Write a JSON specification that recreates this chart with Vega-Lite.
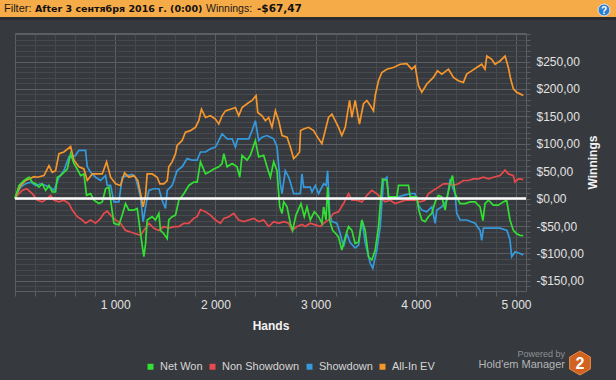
{
  "$schema": "https://vega.github.io/schema/vega-lite/v6.json",
  "width": 511,
  "height": 258,
  "autosize": {"type": "none"},
  "padding": {"left": 15, "top": 33, "right": 90, "bottom": 89},
  "background": "#36393d",
  "config": {
    "font": "Liberation Sans",
    "view": {"stroke": "#5b5e62", "strokeWidth": 1}
  },
  "datasets": {
    "series": [
      {"s":"Showdown","h":0,"v":0},{"s":"Showdown","h":10,"v":6},{"s":"Showdown","h":56,"v":21},{"s":"Showdown","h":106,"v":27},{"s":"Showdown","h":156,"v":30},{"s":"Showdown","h":206,"v":24},{"s":"Showdown","h":256,"v":27},{"s":"Showdown","h":306,"v":24},{"s":"Showdown","h":356,"v":20},{"s":"Showdown","h":389,"v":15},{"s":"Showdown","h":439,"v":39},{"s":"Showdown","h":488,"v":51},{"s":"Showdown","h":538,"v":76},{"s":"Showdown","h":572,"v":76},{"s":"Showdown","h":605,"v":79},{"s":"Showdown","h":638,"v":88},{"s":"Showdown","h":704,"v":88},{"s":"Showdown","h":721,"v":58},{"s":"Showdown","h":754,"v":48},{"s":"Showdown","h":804,"v":39},{"s":"Showdown","h":854,"v":33},{"s":"Showdown","h":904,"v":42},{"s":"Showdown","h":920,"v":24},{"s":"Showdown","h":954,"v":24},{"s":"Showdown","h":987,"v":-6},{"s":"Showdown","h":1037,"v":-6},{"s":"Showdown","h":1070,"v":39},{"s":"Showdown","h":1120,"v":42},{"s":"Showdown","h":1170,"v":44},{"s":"Showdown","h":1203,"v":39},{"s":"Showdown","h":1253,"v":3},{"s":"Showdown","h":1279,"v":-42},{"s":"Showdown","h":1303,"v":-15},{"s":"Showdown","h":1336,"v":15},{"s":"Showdown","h":1386,"v":18},{"s":"Showdown","h":1436,"v":18},{"s":"Showdown","h":1469,"v":-3},{"s":"Showdown","h":1502,"v":-18},{"s":"Showdown","h":1519,"v":15},{"s":"Showdown","h":1568,"v":24},{"s":"Showdown","h":1618,"v":51},{"s":"Showdown","h":1668,"v":58},{"s":"Showdown","h":1718,"v":73},{"s":"Showdown","h":1768,"v":70},{"s":"Showdown","h":1818,"v":70},{"s":"Showdown","h":1851,"v":85},{"s":"Showdown","h":1901,"v":85},{"s":"Showdown","h":1951,"v":91},{"s":"Showdown","h":2000,"v":94},{"s":"Showdown","h":2017,"v":100},{"s":"Showdown","h":2067,"v":118},{"s":"Showdown","h":2117,"v":109},{"s":"Showdown","h":2167,"v":109},{"s":"Showdown","h":2200,"v":94},{"s":"Showdown","h":2223,"v":109},{"s":"Showdown","h":2283,"v":109},{"s":"Showdown","h":2333,"v":109},{"s":"Showdown","h":2366,"v":124},{"s":"Showdown","h":2399,"v":142},{"s":"Showdown","h":2432,"v":106},{"s":"Showdown","h":2466,"v":112},{"s":"Showdown","h":2515,"v":115},{"s":"Showdown","h":2549,"v":112},{"s":"Showdown","h":2582,"v":109},{"s":"Showdown","h":2615,"v":94},{"s":"Showdown","h":2648,"v":27},{"s":"Showdown","h":2665,"v":9},{"s":"Showdown","h":2698,"v":51},{"s":"Showdown","h":2732,"v":39},{"s":"Showdown","h":2748,"v":30},{"s":"Showdown","h":2781,"v":9},{"s":"Showdown","h":2848,"v":9},{"s":"Showdown","h":2864,"v":45},{"s":"Showdown","h":2881,"v":21},{"s":"Showdown","h":2947,"v":21},{"s":"Showdown","h":2964,"v":12},{"s":"Showdown","h":2997,"v":24},{"s":"Showdown","h":3030,"v":9},{"s":"Showdown","h":3080,"v":27},{"s":"Showdown","h":3105,"v":24},{"s":"Showdown","h":3120,"v":51},{"s":"Showdown","h":3140,"v":-27},{"s":"Showdown","h":3163,"v":-42},{"s":"Showdown","h":3213,"v":-45},{"s":"Showdown","h":3246,"v":-64},{"s":"Showdown","h":3279,"v":-88},{"s":"Showdown","h":3312,"v":-64},{"s":"Showdown","h":3345,"v":-80},{"s":"Showdown","h":3395,"v":-90},{"s":"Showdown","h":3429,"v":-85},{"s":"Showdown","h":3462,"v":-39},{"s":"Showdown","h":3495,"v":-80},{"s":"Showdown","h":3545,"v":-118},{"s":"Showdown","h":3571,"v":-127},{"s":"Showdown","h":3611,"v":-94},{"s":"Showdown","h":3645,"v":-51},{"s":"Showdown","h":3678,"v":33},{"s":"Showdown","h":3711,"v":39},{"s":"Showdown","h":3728,"v":3},{"s":"Showdown","h":3811,"v":3},{"s":"Showdown","h":3877,"v":6},{"s":"Showdown","h":3944,"v":9},{"s":"Showdown","h":3993,"v":9},{"s":"Showdown","h":4027,"v":-12},{"s":"Showdown","h":4060,"v":-21},{"s":"Showdown","h":4110,"v":-24},{"s":"Showdown","h":4160,"v":-15},{"s":"Showdown","h":4193,"v":-45},{"s":"Showdown","h":4210,"v":-21},{"s":"Showdown","h":4260,"v":-15},{"s":"Showdown","h":4310,"v":-3},{"s":"Showdown","h":4343,"v":36},{"s":"Showdown","h":4366,"v":21},{"s":"Showdown","h":4392,"v":9},{"s":"Showdown","h":4409,"v":-27},{"s":"Showdown","h":4442,"v":-39},{"s":"Showdown","h":4508,"v":-39},{"s":"Showdown","h":4592,"v":-45},{"s":"Showdown","h":4642,"v":-58},{"s":"Showdown","h":4658,"v":-76},{"s":"Showdown","h":4675,"v":-54},{"s":"Showdown","h":4774,"v":-54},{"s":"Showdown","h":4841,"v":-54},{"s":"Showdown","h":4910,"v":-58},{"s":"Showdown","h":4940,"v":-75},{"s":"Showdown","h":4957,"v":-106},{"s":"Showdown","h":4990,"v":-97},{"s":"Showdown","h":5040,"v":-100},{"s":"Showdown","h":5073,"v":-103},
      {"s":"Non Showdown","h":0,"v":0},{"s":"Non Showdown","h":10,"v":3},{"s":"Non Showdown","h":40,"v":9},{"s":"Non Showdown","h":73,"v":15},{"s":"Non Showdown","h":116,"v":18},{"s":"Non Showdown","h":173,"v":9},{"s":"Non Showdown","h":223,"v":-3},{"s":"Non Showdown","h":272,"v":-6},{"s":"Non Showdown","h":322,"v":0},{"s":"Non Showdown","h":356,"v":6},{"s":"Non Showdown","h":389,"v":-3},{"s":"Non Showdown","h":439,"v":-6},{"s":"Non Showdown","h":488,"v":-3},{"s":"Non Showdown","h":538,"v":-9},{"s":"Non Showdown","h":572,"v":-21},{"s":"Non Showdown","h":621,"v":-33},{"s":"Non Showdown","h":671,"v":-39},{"s":"Non Showdown","h":704,"v":-45},{"s":"Non Showdown","h":754,"v":-39},{"s":"Non Showdown","h":804,"v":-45},{"s":"Non Showdown","h":854,"v":-36},{"s":"Non Showdown","h":887,"v":-27},{"s":"Non Showdown","h":920,"v":-23},{"s":"Non Showdown","h":954,"v":-30},{"s":"Non Showdown","h":1004,"v":-39},{"s":"Non Showdown","h":1053,"v":-45},{"s":"Non Showdown","h":1103,"v":-58},{"s":"Non Showdown","h":1153,"v":-61},{"s":"Non Showdown","h":1203,"v":-64},{"s":"Non Showdown","h":1253,"v":-67},{"s":"Non Showdown","h":1286,"v":-58},{"s":"Non Showdown","h":1336,"v":-45},{"s":"Non Showdown","h":1386,"v":-54},{"s":"Non Showdown","h":1436,"v":-58},{"s":"Non Showdown","h":1485,"v":-51},{"s":"Non Showdown","h":1535,"v":-54},{"s":"Non Showdown","h":1585,"v":-51},{"s":"Non Showdown","h":1635,"v":-51},{"s":"Non Showdown","h":1685,"v":-45},{"s":"Non Showdown","h":1735,"v":-45},{"s":"Non Showdown","h":1784,"v":-36},{"s":"Non Showdown","h":1818,"v":-33},{"s":"Non Showdown","h":1851,"v":-20},{"s":"Non Showdown","h":1901,"v":-24},{"s":"Non Showdown","h":1951,"v":-30},{"s":"Non Showdown","h":2000,"v":-39},{"s":"Non Showdown","h":2050,"v":-45},{"s":"Non Showdown","h":2084,"v":-36},{"s":"Non Showdown","h":2133,"v":-33},{"s":"Non Showdown","h":2183,"v":-27},{"s":"Non Showdown","h":2233,"v":-39},{"s":"Non Showdown","h":2283,"v":-42},{"s":"Non Showdown","h":2333,"v":-39},{"s":"Non Showdown","h":2383,"v":-36},{"s":"Non Showdown","h":2432,"v":-42},{"s":"Non Showdown","h":2482,"v":-39},{"s":"Non Showdown","h":2532,"v":-51},{"s":"Non Showdown","h":2582,"v":-42},{"s":"Non Showdown","h":2632,"v":-45},{"s":"Non Showdown","h":2682,"v":-42},{"s":"Non Showdown","h":2732,"v":-45},{"s":"Non Showdown","h":2765,"v":-58},{"s":"Non Showdown","h":2815,"v":-51},{"s":"Non Showdown","h":2864,"v":-47},{"s":"Non Showdown","h":2897,"v":-51},{"s":"Non Showdown","h":2947,"v":-45},{"s":"Non Showdown","h":2997,"v":-48},{"s":"Non Showdown","h":3046,"v":-51},{"s":"Non Showdown","h":3080,"v":-45},{"s":"Non Showdown","h":3129,"v":-39},{"s":"Non Showdown","h":3179,"v":-27},{"s":"Non Showdown","h":3229,"v":-24},{"s":"Non Showdown","h":3279,"v":-9},{"s":"Non Showdown","h":3329,"v":9},{"s":"Non Showdown","h":3362,"v":-3},{"s":"Non Showdown","h":3412,"v":-3},{"s":"Non Showdown","h":3462,"v":-6},{"s":"Non Showdown","h":3512,"v":6},{"s":"Non Showdown","h":3561,"v":15},{"s":"Non Showdown","h":3611,"v":9},{"s":"Non Showdown","h":3661,"v":0},{"s":"Non Showdown","h":3694,"v":-6},{"s":"Non Showdown","h":3744,"v":-3},{"s":"Non Showdown","h":3794,"v":-9},{"s":"Non Showdown","h":3844,"v":-6},{"s":"Non Showdown","h":3894,"v":-3},{"s":"Non Showdown","h":3944,"v":-3},{"s":"Non Showdown","h":3993,"v":-3},{"s":"Non Showdown","h":4043,"v":-6},{"s":"Non Showdown","h":4093,"v":-3},{"s":"Non Showdown","h":4126,"v":9},{"s":"Non Showdown","h":4176,"v":15},{"s":"Non Showdown","h":4226,"v":21},{"s":"Non Showdown","h":4276,"v":27},{"s":"Non Showdown","h":4326,"v":27},{"s":"Non Showdown","h":4376,"v":24},{"s":"Non Showdown","h":4425,"v":27},{"s":"Non Showdown","h":4475,"v":33},{"s":"Non Showdown","h":4525,"v":33},{"s":"Non Showdown","h":4575,"v":36},{"s":"Non Showdown","h":4625,"v":36},{"s":"Non Showdown","h":4675,"v":39},{"s":"Non Showdown","h":4725,"v":36},{"s":"Non Showdown","h":4774,"v":39},{"s":"Non Showdown","h":4841,"v":42},{"s":"Non Showdown","h":4891,"v":52},{"s":"Non Showdown","h":4924,"v":45},{"s":"Non Showdown","h":4974,"v":42},{"s":"Non Showdown","h":4990,"v":30},{"s":"Non Showdown","h":5024,"v":36},{"s":"Non Showdown","h":5073,"v":35},
      {"s":"All-In EV","h":0,"v":0},{"s":"All-In EV","h":10,"v":6},{"s":"All-In EV","h":56,"v":24},{"s":"All-In EV","h":106,"v":33},{"s":"All-In EV","h":189,"v":40},{"s":"All-In EV","h":223,"v":39},{"s":"All-In EV","h":289,"v":42},{"s":"All-In EV","h":339,"v":60},{"s":"All-In EV","h":372,"v":48},{"s":"All-In EV","h":405,"v":51},{"s":"All-In EV","h":439,"v":82},{"s":"All-In EV","h":488,"v":85},{"s":"All-In EV","h":555,"v":95},{"s":"All-In EV","h":588,"v":70},{"s":"All-In EV","h":638,"v":58},{"s":"All-In EV","h":688,"v":54},{"s":"All-In EV","h":721,"v":33},{"s":"All-In EV","h":771,"v":45},{"s":"All-In EV","h":821,"v":45},{"s":"All-In EV","h":871,"v":45},{"s":"All-In EV","h":914,"v":67},{"s":"All-In EV","h":954,"v":39},{"s":"All-In EV","h":1004,"v":27},{"s":"All-In EV","h":1053,"v":24},{"s":"All-In EV","h":1093,"v":47},{"s":"All-In EV","h":1136,"v":39},{"s":"All-In EV","h":1186,"v":42},{"s":"All-In EV","h":1226,"v":33},{"s":"All-In EV","h":1253,"v":9},{"s":"All-In EV","h":1279,"v":-15},{"s":"All-In EV","h":1303,"v":6},{"s":"All-In EV","h":1319,"v":45},{"s":"All-In EV","h":1369,"v":45},{"s":"All-In EV","h":1419,"v":39},{"s":"All-In EV","h":1446,"v":27},{"s":"All-In EV","h":1485,"v":27},{"s":"All-In EV","h":1519,"v":33},{"s":"All-In EV","h":1535,"v":58},{"s":"All-In EV","h":1568,"v":67},{"s":"All-In EV","h":1602,"v":82},{"s":"All-In EV","h":1618,"v":97},{"s":"All-In EV","h":1668,"v":106},{"s":"All-In EV","h":1701,"v":121},{"s":"All-In EV","h":1751,"v":124},{"s":"All-In EV","h":1801,"v":130},{"s":"All-In EV","h":1834,"v":142},{"s":"All-In EV","h":1861,"v":163},{"s":"All-In EV","h":1901,"v":148},{"s":"All-In EV","h":1951,"v":151},{"s":"All-In EV","h":2000,"v":145},{"s":"All-In EV","h":2034,"v":136},{"s":"All-In EV","h":2067,"v":151},{"s":"All-In EV","h":2100,"v":160},{"s":"All-In EV","h":2150,"v":163},{"s":"All-In EV","h":2200,"v":166},{"s":"All-In EV","h":2233,"v":151},{"s":"All-In EV","h":2266,"v":166},{"s":"All-In EV","h":2316,"v":173},{"s":"All-In EV","h":2366,"v":179},{"s":"All-In EV","h":2406,"v":188},{"s":"All-In EV","h":2423,"v":157},{"s":"All-In EV","h":2466,"v":151},{"s":"All-In EV","h":2499,"v":142},{"s":"All-In EV","h":2532,"v":148},{"s":"All-In EV","h":2565,"v":130},{"s":"All-In EV","h":2599,"v":160},{"s":"All-In EV","h":2632,"v":142},{"s":"All-In EV","h":2665,"v":115},{"s":"All-In EV","h":2715,"v":112},{"s":"All-In EV","h":2748,"v":94},{"s":"All-In EV","h":2781,"v":73},{"s":"All-In EV","h":2815,"v":79},{"s":"All-In EV","h":2840,"v":85},{"s":"All-In EV","h":2850,"v":124},{"s":"All-In EV","h":2880,"v":127},{"s":"All-In EV","h":2930,"v":130},{"s":"All-In EV","h":2980,"v":124},{"s":"All-In EV","h":3030,"v":109},{"s":"All-In EV","h":3063,"v":100},{"s":"All-In EV","h":3096,"v":124},{"s":"All-In EV","h":3129,"v":148},{"s":"All-In EV","h":3163,"v":154},{"s":"All-In EV","h":3196,"v":142},{"s":"All-In EV","h":3229,"v":130},{"s":"All-In EV","h":3262,"v":115},{"s":"All-In EV","h":3296,"v":130},{"s":"All-In EV","h":3339,"v":179},{"s":"All-In EV","h":3362,"v":148},{"s":"All-In EV","h":3395,"v":179},{"s":"All-In EV","h":3438,"v":136},{"s":"All-In EV","h":3478,"v":173},{"s":"All-In EV","h":3512,"v":179},{"s":"All-In EV","h":3545,"v":170},{"s":"All-In EV","h":3578,"v":160},{"s":"All-In EV","h":3595,"v":188},{"s":"All-In EV","h":3628,"v":215},{"s":"All-In EV","h":3661,"v":230},{"s":"All-In EV","h":3711,"v":236},{"s":"All-In EV","h":3777,"v":239},{"s":"All-In EV","h":3844,"v":245},{"s":"All-In EV","h":3910,"v":246},{"s":"All-In EV","h":3960,"v":236},{"s":"All-In EV","h":3993,"v":242},{"s":"All-In EV","h":4027,"v":206},{"s":"All-In EV","h":4060,"v":194},{"s":"All-In EV","h":4110,"v":209},{"s":"All-In EV","h":4176,"v":221},{"s":"All-In EV","h":4216,"v":233},{"s":"All-In EV","h":4260,"v":227},{"s":"All-In EV","h":4326,"v":236},{"s":"All-In EV","h":4376,"v":221},{"s":"All-In EV","h":4425,"v":215},{"s":"All-In EV","h":4475,"v":212},{"s":"All-In EV","h":4508,"v":227},{"s":"All-In EV","h":4558,"v":233},{"s":"All-In EV","h":4608,"v":239},{"s":"All-In EV","h":4658,"v":245},{"s":"All-In EV","h":4691,"v":236},{"s":"All-In EV","h":4709,"v":260},{"s":"All-In EV","h":4758,"v":254},{"s":"All-In EV","h":4791,"v":245},{"s":"All-In EV","h":4841,"v":251},{"s":"All-In EV","h":4891,"v":260},{"s":"All-In EV","h":4924,"v":239},{"s":"All-In EV","h":4947,"v":218},{"s":"All-In EV","h":4974,"v":200},{"s":"All-In EV","h":5007,"v":194},{"s":"All-In EV","h":5040,"v":191},{"s":"All-In EV","h":5073,"v":188},
      {"s":"Net Won","h":0,"v":0},{"s":"Net Won","h":10,"v":6},{"s":"Net Won","h":40,"v":24},{"s":"Net Won","h":90,"v":33},{"s":"Net Won","h":140,"v":39},{"s":"Net Won","h":173,"v":30},{"s":"Net Won","h":206,"v":27},{"s":"Net Won","h":239,"v":21},{"s":"Net Won","h":272,"v":27},{"s":"Net Won","h":306,"v":15},{"s":"Net Won","h":339,"v":24},{"s":"Net Won","h":372,"v":12},{"s":"Net Won","h":405,"v":12},{"s":"Net Won","h":422,"v":39},{"s":"Net Won","h":455,"v":42},{"s":"Net Won","h":488,"v":48},{"s":"Net Won","h":522,"v":54},{"s":"Net Won","h":555,"v":82},{"s":"Net Won","h":588,"v":64},{"s":"Net Won","h":621,"v":54},{"s":"Net Won","h":655,"v":42},{"s":"Net Won","h":688,"v":45},{"s":"Net Won","h":714,"v":6},{"s":"Net Won","h":754,"v":9},{"s":"Net Won","h":788,"v":-3},{"s":"Net Won","h":837,"v":-9},{"s":"Net Won","h":871,"v":-6},{"s":"Net Won","h":904,"v":18},{"s":"Net Won","h":937,"v":21},{"s":"Net Won","h":964,"v":-15},{"s":"Net Won","h":987,"v":-45},{"s":"Net Won","h":1037,"v":-48},{"s":"Net Won","h":1070,"v":-30},{"s":"Net Won","h":1103,"v":-9},{"s":"Net Won","h":1136,"v":-21},{"s":"Net Won","h":1186,"v":-21},{"s":"Net Won","h":1220,"v":-18},{"s":"Net Won","h":1253,"v":-64},{"s":"Net Won","h":1286,"v":-106},{"s":"Net Won","h":1303,"v":-82},{"s":"Net Won","h":1319,"v":-39},{"s":"Net Won","h":1369,"v":-33},{"s":"Net Won","h":1402,"v":-39},{"s":"Net Won","h":1436,"v":-27},{"s":"Net Won","h":1452,"v":-58},{"s":"Net Won","h":1485,"v":-64},{"s":"Net Won","h":1519,"v":-73},{"s":"Net Won","h":1535,"v":-39},{"s":"Net Won","h":1568,"v":-33},{"s":"Net Won","h":1602,"v":-30},{"s":"Net Won","h":1635,"v":-3},{"s":"Net Won","h":1685,"v":9},{"s":"Net Won","h":1735,"v":24},{"s":"Net Won","h":1784,"v":30},{"s":"Net Won","h":1818,"v":30},{"s":"Net Won","h":1851,"v":67},{"s":"Net Won","h":1901,"v":45},{"s":"Net Won","h":1934,"v":48},{"s":"Net Won","h":1984,"v":54},{"s":"Net Won","h":2034,"v":58},{"s":"Net Won","h":2067,"v":64},{"s":"Net Won","h":2084,"v":82},{"s":"Net Won","h":2117,"v":58},{"s":"Net Won","h":2167,"v":64},{"s":"Net Won","h":2216,"v":58},{"s":"Net Won","h":2243,"v":39},{"s":"Net Won","h":2266,"v":79},{"s":"Net Won","h":2316,"v":70},{"s":"Net Won","h":2349,"v":79},{"s":"Net Won","h":2399,"v":106},{"s":"Net Won","h":2432,"v":76},{"s":"Net Won","h":2482,"v":79},{"s":"Net Won","h":2515,"v":58},{"s":"Net Won","h":2549,"v":39},{"s":"Net Won","h":2582,"v":67},{"s":"Net Won","h":2615,"v":51},{"s":"Net Won","h":2642,"v":-15},{"s":"Net Won","h":2665,"v":-27},{"s":"Net Won","h":2682,"v":-6},{"s":"Net Won","h":2715,"v":-15},{"s":"Net Won","h":2748,"v":-45},{"s":"Net Won","h":2771,"v":-58},{"s":"Net Won","h":2804,"v":-30},{"s":"Net Won","h":2854,"v":-9},{"s":"Net Won","h":2887,"v":-33},{"s":"Net Won","h":2914,"v":-15},{"s":"Net Won","h":2947,"v":-39},{"s":"Net Won","h":2987,"v":-24},{"s":"Net Won","h":3030,"v":-33},{"s":"Net Won","h":3063,"v":-45},{"s":"Net Won","h":3080,"v":-15},{"s":"Net Won","h":3104,"v":-39},{"s":"Net Won","h":3120,"v":21},{"s":"Net Won","h":3140,"v":-39},{"s":"Net Won","h":3170,"v":-58},{"s":"Net Won","h":3203,"v":-64},{"s":"Net Won","h":3229,"v":-70},{"s":"Net Won","h":3262,"v":-94},{"s":"Net Won","h":3296,"v":-70},{"s":"Net Won","h":3329,"v":-51},{"s":"Net Won","h":3362,"v":-58},{"s":"Net Won","h":3395,"v":-82},{"s":"Net Won","h":3429,"v":-79},{"s":"Net Won","h":3462,"v":-39},{"s":"Net Won","h":3495,"v":-58},{"s":"Net Won","h":3528,"v":-106},{"s":"Net Won","h":3561,"v":-112},{"s":"Net Won","h":3595,"v":-94},{"s":"Net Won","h":3628,"v":-51},{"s":"Net Won","h":3650,"v":0},{"s":"Net Won","h":3668,"v":36},{"s":"Net Won","h":3711,"v":33},{"s":"Net Won","h":3728,"v":3},{"s":"Net Won","h":3811,"v":3},{"s":"Net Won","h":3828,"v":24},{"s":"Net Won","h":3927,"v":24},{"s":"Net Won","h":3944,"v":3},{"s":"Net Won","h":4010,"v":3},{"s":"Net Won","h":4030,"v":-21},{"s":"Net Won","h":4060,"v":-39},{"s":"Net Won","h":4093,"v":-42},{"s":"Net Won","h":4126,"v":-33},{"s":"Net Won","h":4160,"v":-27},{"s":"Net Won","h":4193,"v":-6},{"s":"Net Won","h":4226,"v":6},{"s":"Net Won","h":4260,"v":3},{"s":"Net Won","h":4293,"v":-21},{"s":"Net Won","h":4310,"v":0},{"s":"Net Won","h":4342,"v":27},{"s":"Net Won","h":4366,"v":42},{"s":"Net Won","h":4392,"v":9},{"s":"Net Won","h":4442,"v":-9},{"s":"Net Won","h":4492,"v":-9},{"s":"Net Won","h":4542,"v":-6},{"s":"Net Won","h":4592,"v":-6},{"s":"Net Won","h":4641,"v":-15},{"s":"Net Won","h":4670,"v":-40},{"s":"Net Won","h":4691,"v":-9},{"s":"Net Won","h":4725,"v":-3},{"s":"Net Won","h":4774,"v":-12},{"s":"Net Won","h":4824,"v":-12},{"s":"Net Won","h":4874,"v":-6},{"s":"Net Won","h":4907,"v":-3},{"s":"Net Won","h":4940,"v":-39},{"s":"Net Won","h":4974,"v":-58},{"s":"Net Won","h":5007,"v":-64},{"s":"Net Won","h":5040,"v":-67},{"s":"Net Won","h":5073,"v":-67.47}
    ]
  },
  "layer": [
    {
      "data": {"values": [{}]},
      "mark": {"type": "rect", "x": -15, "x2": 601, "y": -33, "y2": -16, "fill": "#f5ab48"}
    },
    {
      "data": {"values": [{}]},
      "mark": {"type": "rect", "x": -15, "x2": 601, "y": -16, "y2": -13, "fill": "#2a2c2f"}
    },
    {
      "data": {"values": [{}]},
      "mark": {"type": "text", "text": "Filter:", "x": -11, "y": -24, "align": "left", "baseline": "middle", "fontSize": 11, "color": "#1a1a1a"}
    },
    {
      "data": {"values": [{}]},
      "mark": {"type": "text", "text": "After 3 сентября 2016 г. (0:00)", "x": 20, "y": -24, "align": "left", "baseline": "middle", "font": "DejaVu Sans", "fontSize": 9.5, "fontWeight": "bold", "color": "#111111"}
    },
    {
      "data": {"values": [{}]},
      "mark": {"type": "text", "text": "Winnings:", "x": 191, "y": -24, "align": "left", "baseline": "middle", "fontSize": 10.5, "color": "#1a1a1a"}
    },
    {
      "data": {"values": [{}]},
      "mark": {"type": "text", "text": "-$67,47", "x": 242, "y": -24, "align": "left", "baseline": "middle", "font": "DejaVu Sans", "fontSize": 10.5, "fontWeight": "bold", "color": "#111111"}
    },
    {
      "data": {"values": [{}]},
      "mark": {"type": "point", "shape": "circle", "x": 589, "y": -23, "size": 140, "filled": true, "fill": "#2b7fd1", "stroke": "#e8f0ff", "strokeWidth": 0.8, "opacity": 1}
    },
    {
      "data": {"values": [{}]},
      "mark": {"type": "text", "text": "?", "x": 589, "y": -22.5, "align": "center", "baseline": "middle", "fontSize": 10, "fontWeight": "bold", "color": "#ffffff"}
    },
    {
      "data": {"values": [{}]},
      "mark": {"type": "text", "text": "Powered by", "x": 550, "y": 321, "align": "right", "baseline": "middle", "fontSize": 9, "color": "#8e9094"}
    },
    {
      "data": {"values": [{}]},
      "mark": {"type": "text", "text": "Hold'em Manager", "x": 550, "y": 332, "align": "right", "baseline": "middle", "fontSize": 11, "color": "#b4b6b9"}
    },
    {
      "data": {"values": [{}]},
      "mark": {"type": "point", "shape": "M0,-1L0.866,-0.5L0.866,0.5L0,1L-0.866,0.5L-0.866,-0.5Z", "x": 565, "y": 330, "size": 576, "filled": true, "fill": "#d2621f", "stroke": "#e88a4a", "strokeWidth": 1, "opacity": 1}
    },
    {
      "data": {"values": [{}]},
      "mark": {"type": "text", "text": "2", "x": 565, "y": 331, "align": "center", "baseline": "middle", "fontSize": 16, "fontWeight": "bold", "color": "#ffffff"}
    },
    {
      "data": {"name": "series"},
      "mark": {"type": "line", "strokeWidth": 1.7, "interpolate": "linear"},
      "encoding": {
        "x": {
          "field": "h", "type": "quantitative",
          "scale": {"domain": [0, 5100], "nice": false, "zero": false},
          "axis": {
            "title": "Hands",
            "values": [0,200,400,600,800,1000,1200,1400,1600,1800,2000,2200,2400,2600,2800,3000,3200,3400,3600,3800,4000,4200,4400,4600,4800,5000],
            "tickCount": 1000,
            "labelExpr": "datum.value % 1000 === 0 && datum.value > 0 ? replace(format(datum.value, ','), ',', ' ') : ''",
            "labelOverlap": false,
            "labelFlush": false,
            "labelFontSize": 12,
            "labelColor": "#e2e2e2",
            "labelPadding": 3,
            "domain": false,
            "grid": true,
            "gridColor": {"condition": {"test": "datum.value % 1000 === 0", "value": "#5b5e62"}, "value": "#46494d"},
            "gridWidth": 1,
            "ticks": true,
            "tickColor": "#5b5e62",
            "tickSize": 5,
            "titleFontSize": 12,
            "titleFontWeight": "bold",
            "titleColor": "#f2f2f2",
            "titlePadding": 10
          }
        },
        "y": {
          "field": "v", "type": "quantitative",
          "scale": {"domain": [-168.5, 302], "nice": false, "zero": false},
          "axis": {
            "orient": "right",
            "title": "Winnings",
            "titleAngle": 270,
            "values": [-160,-150,-140,-130,-120,-110,-100,-90,-80,-70,-60,-50,-40,-30,-20,-10,0,10,20,30,40,50,60,70,80,90,100,110,120,130,140,150,160,170,180,190,200,210,220,230,240,250,260,270,280,290,300],
            "tickCount": 1000,
            "labelExpr": "datum.value % 50 === 0 && datum.value < 300 ? (datum.value < 0 ? '-' : '') + '$' + replace(format(abs(datum.value), '.2f'), '.', ',') : ''",
            "labelOverlap": false,
            "labelFlush": false,
            "labelFontSize": 12,
            "labelColor": "#e2e2e2",
            "labelPadding": 6,
            "domain": false,
            "grid": true,
            "gridColor": {"condition": {"test": "datum.value % 50 === 0", "value": "#5b5e62"}, "value": "#46494d"},
            "gridWidth": 1,
            "ticks": true,
            "tickColor": "#5b5e62",
            "tickSize": 4,
            "titleFontSize": 12,
            "titleFontWeight": "bold",
            "titleColor": "#f2f2f2",
            "titlePadding": 16
          }
        },
        "color": {
          "field": "s", "type": "nominal",
          "scale": {"domain": ["Net Won", "Non Showdown", "Showdown", "All-In EV"], "range": ["#33df33", "#e64a4c", "#3599dc", "#f5962c"]},
          "legend": {
            "orient": "none",
            "legendX": 130,
            "legendY": 328,
            "direction": "horizontal",
            "title": null,
            "padding": 0,
            "symbolType": "square",
            "symbolSize": 36,
            "labelFontSize": 11,
            "labelColor": "#d6d6d6",
            "labelOffset": 4,
            "columnPadding": 4,
            "encode": {"symbols": {"update": {"fill": {"scale": "color", "field": "value"}, "strokeWidth": {"value": 0}, "opacity": {"value": 1}}}}
          }
        }
      }
    },
    {
      "data": {"values": [{}]},
      "mark": {"type": "rule", "color": "#ffffff", "strokeWidth": 2.5},
      "encoding": {"y": {"datum": 0}}
    }
  ]
}
